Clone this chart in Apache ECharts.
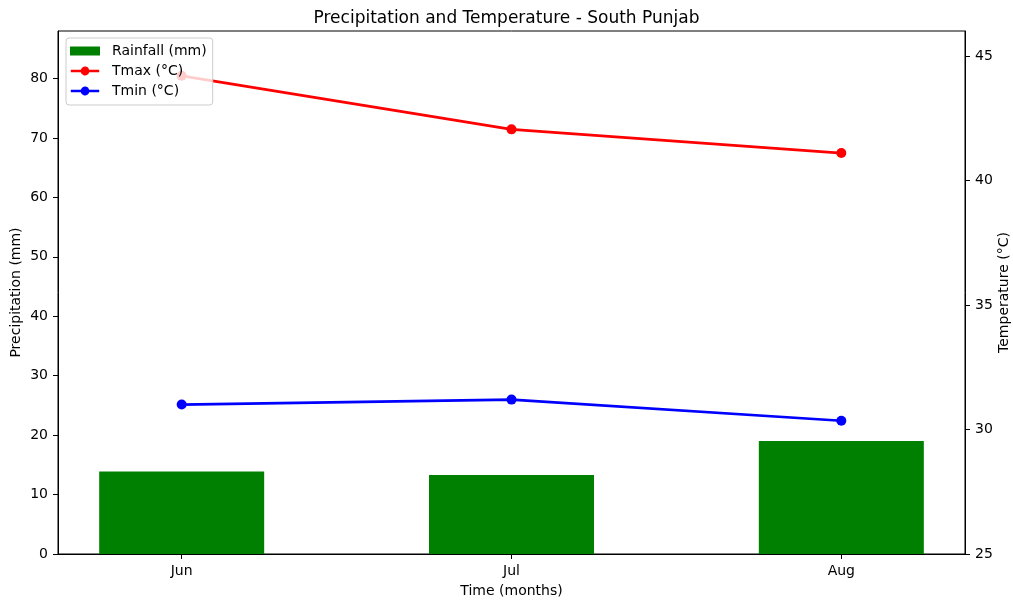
<!DOCTYPE html>
<html><head><meta charset="utf-8">
<script src="https://cdn.jsdelivr.net/npm/echarts@6/dist/echarts.min.js"></script>
<style>html,body{margin:0;padding:0;background:#fff}#c{width:1013px;height:601px}</style>
</head><body><div id="c"></div>
<script>
const months = ['Jun', 'Jul', 'Aug'];
const rainfall = [13.9, 13.3, 19.0];
const tmax = [44.2, 42.05, 41.1];
const tmin = [31.0, 31.2, 30.35];

const font = 'DejaVu Sans';
const chart = echarts.init(document.getElementById('c'));
const idx = months.map((m, i) => i);
const lineIcon = 'path://M0,3.3 L10.6,3.3 A4.5,4.5 0 0,1 19.4,3.3 L30,3.3 L30,5.7 L19.4,5.7 A4.5,4.5 0 0,1 10.6,5.7 L0,5.7 Z M0,0 M30,9';
chart.setOption({
  animation: false,
  textStyle: { fontFamily: font },
  title: { text: 'Precipitation and Temperature - South Punjab', left: 'center', top: 5,
    textStyle: { fontFamily: font, fontSize: 17, fontWeight: 'normal', color: '#000' } },
  grid: { left: 58, right: 48, top: 31, bottom: 47, show: true, borderColor: '#000', borderWidth: 1,
    backgroundColor: 'transparent', outerBoundsMode: 'none', containLabel: false },
  legend: {
    left: 66, top: 38, orient: 'vertical', itemGap: 6, itemWidth: 30, itemHeight: 9,
    backgroundColor: 'rgba(255,255,255,0.8)', borderColor: '#ccc', borderWidth: 1, borderRadius: 3,
    padding: [6, 6, 7, 4],
    textStyle: { fontFamily: font, fontSize: 14, color: '#000', padding: [0, 0, 0, 7] },
    data: [{ name: 'Rainfall (mm)', icon: 'rect' },
           { name: 'Tmax (°C)', icon: lineIcon },
           { name: 'Tmin (°C)', icon: lineIcon }]
  },
  xAxis: {
    type: 'value', min: -0.375, max: 2.375,
    name: 'Time (months)', nameLocation: 'middle', nameGap: 30, nameMoveOverlap: false,
    nameTextStyle: { fontFamily: font, fontSize: 14, color: '#000' },
    axisLine: { show: true, onZero: false, lineStyle: { color: '#000' } },
    axisTick: { show: true, customValues: idx, length: 5, lineStyle: { color: '#000' } },
    axisLabel: { customValues: idx, formatter: v => months[Math.round(v)], fontFamily: font, fontSize: 14, color: '#000', margin: 10 },
    splitLine: { show: false }
  },
  yAxis: [
    { type: 'value', min: 0, max: 88, interval: 10, position: 'left',
      name: 'Precipitation (mm)', nameLocation: 'middle', nameGap: 35, nameMoveOverlap: false,
      nameTextStyle: { fontFamily: font, fontSize: 14, color: '#000' },
      axisLine: { show: true, onZero: false, lineStyle: { color: '#000' } },
      axisTick: { show: true, inside: false, length: 5, lineStyle: { color: '#000' } },
      axisLabel: { fontFamily: font, fontSize: 14, color: '#000', margin: 10, showMaxLabel: false },
      splitLine: { show: false } },
    { type: 'value', min: 25, max: 46, interval: 5, position: 'right',
      name: 'Temperature (°C)', nameLocation: 'middle', nameGap: 32, nameMoveOverlap: false,
      nameTextStyle: { fontFamily: font, fontSize: 14, color: '#000' },
      axisLine: { show: true, onZero: false, lineStyle: { color: '#000' } },
      axisTick: { show: true, length: 5, lineStyle: { color: '#000' } },
      axisLabel: { fontFamily: font, fontSize: 14, color: '#000', margin: 10, showMaxLabel: false },
      splitLine: { show: false } }
  ],
  series: [
    { name: 'Rainfall (mm)', type: 'bar', yAxisIndex: 0, barWidth: 165, z: 1,
      itemStyle: { color: '#008000' },
      data: rainfall.map((v, i) => [i, v]) },
    { name: 'Tmax (°C)', type: 'line', yAxisIndex: 1, symbol: 'circle', symbolSize: 10, z: 2,
      lineStyle: { color: '#ff0000', width: 2.7 }, itemStyle: { color: '#ff0000' },
      data: tmax.map((v, i) => [i, v]) },
    { name: 'Tmin (°C)', type: 'line', yAxisIndex: 1, symbol: 'circle', symbolSize: 10, z: 2,
      lineStyle: { color: '#0000ff', width: 2.7 }, itemStyle: { color: '#0000ff' },
      data: tmin.map((v, i) => [i, v]) }
  ]
});
</script></body></html>
